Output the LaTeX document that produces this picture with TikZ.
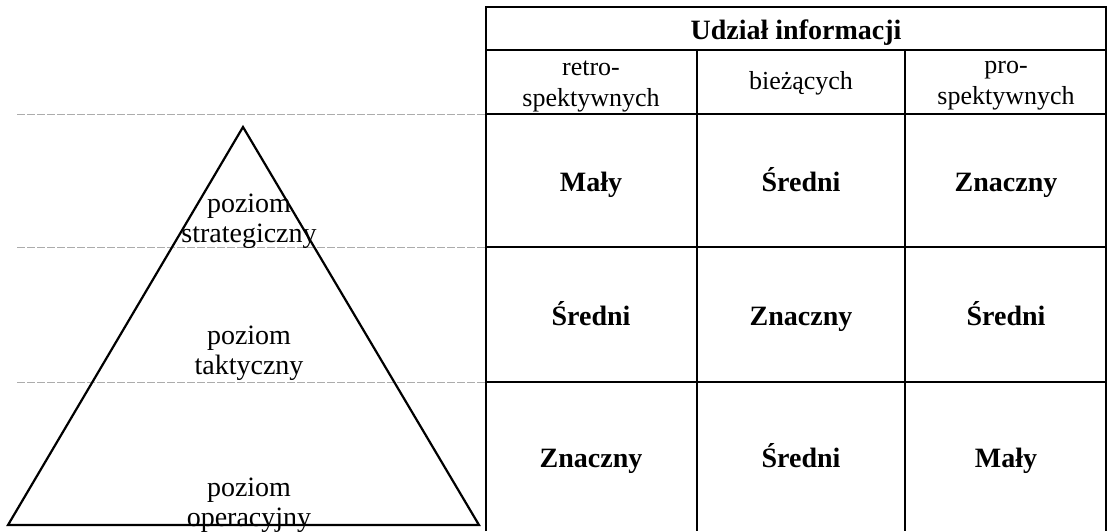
\documentclass[tikz,border=0pt]{standalone}
\usepackage{fontspec}
\setmainfont{Liberation Serif}
\begin{document}
\begin{tikzpicture}[x=1pt,y=-1pt,
  rule/.style={line width=2pt,black},
  guide/.style={line width=1pt,gray!65,dash pattern=on 8pt off 2pt},
  edge/.style={line width=2.2pt,black,line join=miter},
  headtext/.style={font=\fontsize{28}{30}\selectfont\bfseries,inner sep=0pt,anchor=base},
  subtext/.style={font=\fontsize{26}{31}\selectfont,align=center,inner sep=0pt},
  valtext/.style={font=\fontsize{28}{30}\selectfont\bfseries,inner sep=0pt,anchor=base},
  leveltext/.style={font=\fontsize{28}{30}\selectfont,align=center,inner sep=0pt}]
\useasboundingbox (0,0) rectangle (1107,531);

% dashed guide lines continuing the table rows to the left
\foreach \yy in {114,247,382}
  \draw[guide] (17,\yy) -- (486,\yy);

% pyramid
\coordinate (apex) at (243,127);
\coordinate (bl) at (8,525);
\coordinate (br) at (479,525);
\draw[edge] (apex) -- (br) -- (bl) -- cycle;

\node[leveltext] (strat) at (249,221) {poziom\\strategiczny};
\node[leveltext] (takt) at (249,353) {poziom\\taktyczny};
\node[leveltext] (oper) at (249,505) {poziom\\operacyjny};

% table frame and rules
\draw[rule] (486,531) -- (486,7) -- (1106,7) -- (1106,531);
\foreach \yy in {50,114,247,382}
  \draw[rule] (486,\yy) -- (1106,\yy);
\foreach \xx in {697,905}
  \draw[rule] (\xx,50) -- (\xx,531);

% header
\node[headtext] (head) at (796,39) {Udział informacji};
\node[subtext] (retro) at (591,86) {retro-\\spektywnych};
\node[subtext] (biez) at (801,83) {bieżących};
\node[subtext] (pros) at (1006,86) {pro-\\spektywnych};

% values
\node[valtext] (v11) at (591,191) {Mały};
\node[valtext] (v12) at (801,191) {Średni};
\node[valtext] (v13) at (1006,191) {Znaczny};
\node[valtext] (v21) at (591,325) {Średni};
\node[valtext] (v22) at (801,325) {Znaczny};
\node[valtext] (v23) at (1006,325) {Średni};
\node[valtext] (v31) at (591,467) {Znaczny};
\node[valtext] (v32) at (801,467) {Średni};
\node[valtext] (v33) at (1006,467) {Mały};
\end{tikzpicture}
\end{document}
